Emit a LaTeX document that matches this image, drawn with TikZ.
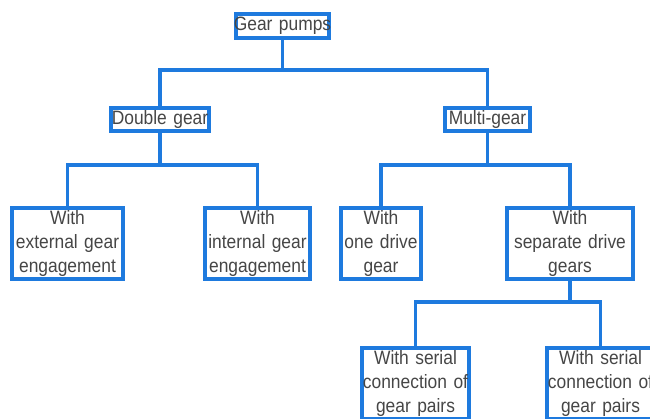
\documentclass[tikz,border=0pt]{standalone}
\usepackage{fontspec}
\setmainfont{Liberation Sans}[FakeStretch=0.9]
\usepackage{tikz}
\pgfdeclarelayer{bg}
\pgfsetlayers{bg,main}
\definecolor{linkblue}{RGB}{30,122,222}
\definecolor{labelgray}{RGB}{70,70,70}
\newcommand{\gline}[1]{\makebox[0pt]{#1}}
\tikzset{
  box/.style={draw=linkblue, line width=2.6pt, fill=white, inner sep=0pt, align=center,
    text=labelgray, font=\fontsize{16.5}{20.5}\selectfont},
  link/.style={draw=linkblue, line width=2.6pt}
}

\begin{document}
\begin{tikzpicture}[x=0.03cm, y=-0.03cm]
        \useasboundingbox (0,0) rectangle (650,418);
        \clip (0,0) rectangle (650,418);
        \node (gp) [box, text width=2.79cm, minimum height=0.72cm] at (282.5, 26) {\gline{Gear pumps}};
        \node (dg) [box, text width=2.94cm, minimum height=0.69cm] at (160, 119.5) {\gline{Double gear}};
        \node (mg) [box, text width=2.55cm, minimum height=0.69cm] at (487.5, 119.5) {\gline{Multi-gear}};
        \node (ext) [box, text width=3.33cm, minimum height=2.13cm] at (67.5, 243.5) {\gline{With}\\\gline{external gear}\\\gline{engagement}};
        \node (int) [box, text width=3.15cm, minimum height=2.13cm] at (257.5, 243.5) {\gline{With}\\\gline{internal gear}\\\gline{engagement}};
        \node (one) [box, text width=2.4cm, minimum height=2.13cm] at (381, 243.5) {\gline{With}\\\gline{one drive}\\\gline{gear}};
        \node (sep) [box, text width=3.78cm, minimum height=2.13cm] at (570, 243.5) {\gline{With}\\\gline{separate drive}\\\gline{gears}};
        \node (ser1) [box, text width=3.21cm, minimum height=2.13cm] at (415.5, 383.5) {\gline{With serial}\\\gline{connection of}\\\gline{gear pairs}};
        \node (ser2) [box, text width=3.21cm, minimum height=2.13cm] at (600.5, 383.5) {\gline{With serial}\\\gline{connection of}\\\gline{gear pairs}};
        \coordinate (j0) at (282.5, 70);
        \coordinate (j1) at (160, 165);
        \coordinate (j2) at (487.5, 165);
        \coordinate (j3) at (570, 302);
        \begin{pgfonlayer}{bg}
                \draw [link] (gp) -- (j0);
                \draw [link] (j0) -| (dg);
                \draw [link] (j0) -| (mg);
                \draw [link] (dg) -- (j1);
                \draw [link] (j1) -| (ext);
                \draw [link] (j1) -| (int);
                \draw [link] (mg) -- (j2);
                \draw [link] (j2) -| (one);
                \draw [link] (j2) -| (sep);
                \draw [link] (sep) -- (j3);
                \draw [link] (j3) -| (ser1);
                \draw [link] (j3) -| (ser2);
        \end{pgfonlayer}
\end{tikzpicture}
\end{document}
